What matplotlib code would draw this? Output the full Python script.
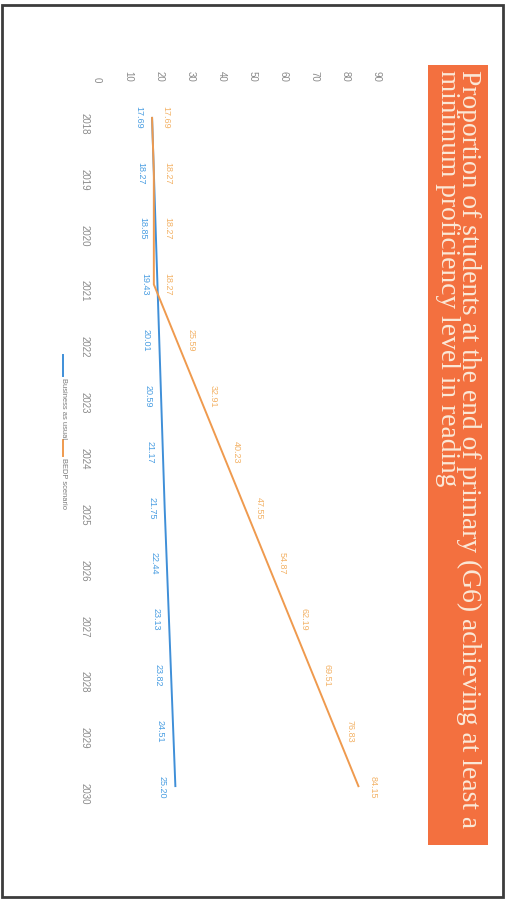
import matplotlib
matplotlib.use("Agg")
import matplotlib.pyplot as plt
from matplotlib.patches import Rectangle
from matplotlib.lines import Line2D

years = [2018, 2019, 2020, 2021, 2022, 2023, 2024, 2025, 2026, 2027, 2028, 2029, 2030]
business_as_usual = [17.69, 18.27, 18.85, 19.43, 20.01, 20.59, 21.17, 21.75, 22.44, 23.13, 23.82, 24.51, 25.20]
bedp_scenario = [17.69, 18.27, 18.27, 18.27, 25.59, 32.91, 40.23, 47.55, 54.87, 62.19, 69.51, 76.83, 84.15]
value_ticks = [0, 10, 20, 30, 40, 50, 60, 70, 80, 90]
series_names = ["Business as usual", "BEDP scenario"]
title = ("Proportion of students at the end of primary (G6) achieving at least a\n"
         "minimum proficiency level in reading")

W, H = 507, 900
BLUE = "#3f8fd8"
BLUE_LBL = "#4a9ee2"
ORANGE = "#ef9a4e"
ORANGE_LBL = "#f3b266"
GREY = "#8a8a8a"

plt.rcParams["font.family"] = ["Liberation Sans", "DejaVu Sans"]

fig = plt.figure(figsize=(W / 100, H / 100), dpi=100)
fig.patch.set_facecolor("white")


def fx(px):
    return px / W


def fy(py):
    return 1 - py / H


# page is turned on its side: years run downward, values run to the right
ax = fig.add_axes([fx(97), fy(815), fx(377) - fx(97), fy(89) - fy(815)])
ax.set_xlim(0, 90)
ax.set_ylim(2030.5, 2017.5)
for s in ax.spines.values():
    s.set_visible(False)

ax.plot(business_as_usual, years, color=BLUE, lw=1.4, solid_capstyle="butt")
ax.plot(bedp_scenario, years, color=ORANGE, lw=1.4, solid_capstyle="butt")

ax.xaxis.tick_top()
ax.set_xticks(value_ticks)
ax.set_xticklabels([str(v) for v in value_ticks], rotation=-90, fontsize=7, color=GREY)
ax.set_yticks(years)
ax.set_yticklabels([str(y) for y in years], rotation=-90, fontsize=7, color=GREY)
ax.tick_params(axis="x", length=0, pad=5)
ax.tick_params(axis="y", length=0, pad=5)

for v, y in zip(business_as_usual, years):
    ax.annotate(f"{v:.2f}", (v, y), xytext=(-13, 0), textcoords="offset pixels",
                rotation=-90, ha="center", va="center", fontsize=6.5, color=BLUE_LBL)
for v, y in zip(bedp_scenario, years):
    ax.annotate(f"{v:.2f}", (v, y), xytext=(14, 0), textcoords="offset pixels",
                rotation=-90, ha="center", va="center", fontsize=6.5, color=ORANGE_LBL)

# legend
leg_x = 63
for (y0, y1, ty), name, col in zip([(355, 376, 378), (440, 456, 458)], series_names, [BLUE, ORANGE]):
    fig.add_artist(Line2D([fx(leg_x), fx(leg_x)], [fy(y0), fy(y1)], color=col, lw=1.4,
                          transform=fig.transFigure))
    fig.text(fx(leg_x), fy(ty), name, rotation=-90, rotation_mode="anchor",
             ha="left", va="center", fontsize=5.4, color="#7a7a7a")

# title banner
fig.add_artist(Rectangle((fx(428), fy(845)), fx(488) - fx(428), fy(65) - fy(845),
                         transform=fig.transFigure, facecolor="#f3703f", edgecolor="none"))
fig.text(fx(458), fy(70), title, rotation=-90, rotation_mode="anchor", ha="left", va="center",
         fontsize=19.8, color="#fbe9d8", family=["Liberation Serif", "DejaVu Serif"],
         linespacing=0.82, multialignment="left")

# page frame
fig.add_artist(Rectangle((fx(2), fy(897)), fx(503) - fx(2), fy(5) - fy(897),
                         transform=fig.transFigure, facecolor="none", edgecolor="#3c3c3c", lw=2))

fig.savefig("out.png", dpi=100)
